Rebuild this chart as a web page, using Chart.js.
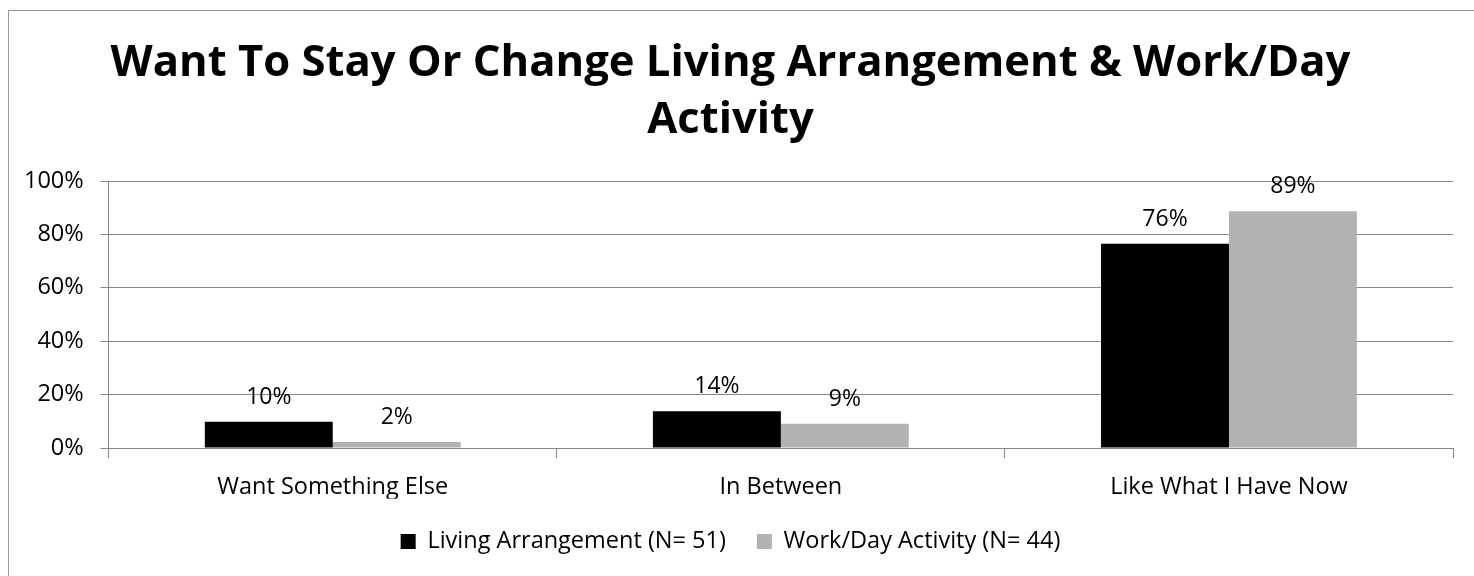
<!DOCTYPE html>
<html>
<head>
<meta charset="utf-8">
<script src="https://cdn.jsdelivr.net/npm/chart.js@4.4.0/dist/chart.umd.min.js"></script>
<style>
  html, body { margin: 0; padding: 0; background: #ffffff; }
  canvas { display: block; }
</style>
</head>
<body>
<canvas id="c" width="1474" height="576"></canvas>
<script>
// ---- data ----
const categories = ['Want Something Else', 'In Between', 'Like What I Have Now'];
const livingArrangement = [9.80, 13.73, 76.47];   // N = 51
const workDayActivity = [2.27, 9.09, 88.64];      // N = 44
const seriesNames = ['Living Arrangement (N= 51)', 'Work/Day Activity (N= 44)'];
const yTicks = [0, 20, 40, 60, 80, 100];
const titleLines = ['Want To Stay Or Change Living Arrangement & Work/Day', 'Activity'];

const FONT = '"Open Sans", Lato, sans-serif';
const GRID = '#868686';

const bgPlugin = {
  id: 'bg',
  beforeDraw(chart) {
    const ctx = chart.ctx;
    ctx.save();
    ctx.fillStyle = '#ffffff';
    ctx.fillRect(0, 0, chart.width, chart.height);
    ctx.strokeStyle = '#9a9a9a';
    ctx.lineWidth = 1;
    ctx.strokeRect(8.5, 10.5, chart.width + 20, chart.height + 20);
    ctx.restore();
  }
};

const labelPlugin = {
  id: 'valueLabels',
  afterDatasetsDraw(chart) {
    const ctx = chart.ctx;
    ctx.save();
    ctx.font = '23px ' + FONT;
    ctx.fillStyle = '#000000';
    ctx.textAlign = 'center';
    ctx.textBaseline = 'alphabetic';
    chart.data.datasets.forEach((ds, di) => {
      const meta = chart.getDatasetMeta(di);
      meta.data.forEach((bar, i) => {
        ctx.fillText(Math.round(ds.data[i]) + '%', bar.x, bar.y - 18);
      });
    });
    ctx.restore();
  }
};

new Chart(document.getElementById('c'), {
  type: 'bar',
  data: {
    labels: categories,
    datasets: [
      { label: seriesNames[0], data: livingArrangement, backgroundColor: '#000000', borderWidth: 0 },
      { label: seriesNames[1], data: workDayActivity, backgroundColor: '#b2b2b2', borderWidth: 0 }
    ]
  },
  options: {
    responsive: false,
    animation: false,
    devicePixelRatio: 1,
    layout: { padding: { left: 8, right: 21, top: 10, bottom: 12.75 } },
    datasets: { bar: { categoryPercentage: 0.571, barPercentage: 1.0 } },
    plugins: {
      title: {
        display: true,
        text: titleLines,
        color: '#000000',
        font: { family: FONT, size: 43.6, weight: 'bold', lineHeight: 57 / 43.6 },
        padding: { top: 25, bottom: 32 }
      },
      legend: {
        display: true,
        position: 'bottom',
        labels: {
          color: '#000000',
          font: { family: FONT, size: 23.5 },
          boxWidth: 15,
          boxHeight: 15,
          padding: 31
        }
      },
      tooltip: { enabled: false }
    },
    scales: {
      x: {
        grid: { display: true, drawOnChartArea: false, drawTicks: true, tickLength: 10, color: GRID, offset: true },
        border: { display: true, color: GRID, width: 1 },
        ticks: { color: '#000000', font: { family: FONT, size: 23.5 }, padding: 15.3, maxRotation: 0 },
        afterFit(scale) { scale.height = 50.75; }
      },
      y: {
        min: 0,
        max: 100,
        afterBuildTicks(scale) { scale.ticks = yTicks.map(v => ({ value: v })); },
        grid: { color: GRID, tickLength: 8, drawTicks: true },
        border: { display: true, color: GRID, width: 1 },
        ticks: { color: '#000000', font: { family: FONT, size: 23.5 }, padding: 17, callback: v => v + '%' },
        afterFit(scale) { scale.width = 100.7; }
      }
    }
  },
  plugins: [bgPlugin, labelPlugin]
});
</script>
</body>
</html>
